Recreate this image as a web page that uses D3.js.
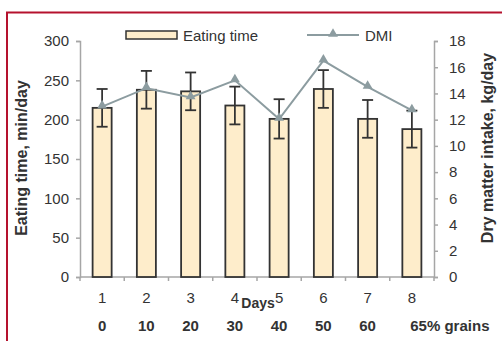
<!DOCTYPE html>
<html><head><meta charset="utf-8">
<script src="https://cdn.jsdelivr.net/npm/d3@7"></script>
<style>
html,body{margin:0;padding:0;background:#fff;}
svg{display:block;}
text{font-family:"Liberation Sans",Arial,sans-serif;fill:#333;}
</style></head>
<body>
<script>
const days = [1,2,3,4,5,6,7,8];
const grainLabels = ["0","10","20","30","40","50","60","65% grains"];
const eatingTime = [215,238,236,218,201,239,201,188];
const eatingErr = [24,24,24,24,25,24,24,23.5];
const dmi = [13.0,14.4,13.7,15.0,12.05,16.5,14.5,12.7];
const leftTicks = [0,50,100,150,200,250,300];
const rightTicks = [0,2,4,6,8,10,12,14,16,18];

const W=502,H=341;
const svg=d3.select("body").append("svg").attr("width",W).attr("height",H);

// frame
svg.append("rect").attr("x",7).attr("y",12.5).attr("width",520).attr("height",360)
  .attr("fill","none").attr("stroke","#b5122e").attr("stroke-width",2);

const x0=80,x1=434,yTop=41,yBot=277;
const x=d3.scaleBand().domain(days).range([x0,x1]);
const yL=d3.scaleLinear().domain([0,300]).range([yBot,yTop]);
const yR=d3.scaleLinear().domain([0,18]).range([yBot,yTop]);
const axisCol="#a6a6a6";

// axes
const gl=svg.append("g").attr("transform",`translate(${x0},0)`)
  .call(d3.axisLeft(yL).tickValues(leftTicks).tickSize(4).tickPadding(7));
const gr=svg.append("g").attr("transform",`translate(${x1},0)`)
  .call(d3.axisRight(yR).tickValues(rightTicks).tickSize(4).tickPadding(11));
[gl,gr].forEach(g=>{
  g.select(".domain").attr("stroke",axisCol).attr("stroke-width",1.5);
  g.selectAll(".tick line").attr("stroke",axisCol).attr("stroke-width",1.5);
  g.selectAll(".tick text").attr("font-size",15).attr("fill","#333").attr("font-family","Liberation Sans, Arial, sans-serif");
});

// x axis line and ticks at band boundaries
svg.append("line").attr("x1",x0).attr("x2",x1).attr("y1",yBot).attr("y2",yBot)
  .attr("stroke",axisCol).attr("stroke-width",1.5);
const bounds=days.map(d=>x(d)).concat([x1]);
svg.selectAll(".xt").data(bounds).enter().append("line")
  .attr("x1",d=>d).attr("x2",d=>d).attr("y1",yBot).attr("y2",yBot+4)
  .attr("stroke",axisCol).attr("stroke-width",1.5);

// bars
const bw=x.bandwidth()*0.43;
svg.selectAll(".bar").data(eatingTime).enter().append("rect")
  .attr("x",(d,i)=>x(days[i])+x.bandwidth()/2-bw/2)
  .attr("y",d=>yL(d)).attr("width",bw).attr("height",d=>yBot-yL(d))
  .attr("fill","#feedcb").attr("stroke","#333").attr("stroke-width",1.8);

// error bars
const eg=svg.append("g").attr("stroke","#333").attr("stroke-width",1.8);
eatingTime.forEach((v,i)=>{
  const cx=x(days[i])+x.bandwidth()/2;
  const t=yL(v+eatingErr[i]), b=yL(v-eatingErr[i]);
  eg.append("line").attr("x1",cx).attr("x2",cx).attr("y1",t).attr("y2",b);
  eg.append("line").attr("x1",cx-5.5).attr("x2",cx+5.5).attr("y1",t).attr("y2",t);
  eg.append("line").attr("x1",cx-5.5).attr("x2",cx+5.5).attr("y1",b).attr("y2",b);
});

// DMI line
const lineCol="#8c9ca0";
const line=d3.line().x((d,i)=>x(days[i])+x.bandwidth()/2).y(d=>yR(d));
svg.append("path").datum(dmi).attr("d",line).attr("fill","none")
  .attr("stroke",lineCol).attr("stroke-width",2);
const tri=d3.symbol().type(d3.symbolTriangle).size(42);
svg.selectAll(".mk").data(dmi).enter().append("path").attr("d",tri)
  .attr("transform",(d,i)=>`translate(${x(days[i])+x.bandwidth()/2},${yR(d)-1})`)
  .attr("fill",lineCol);

// x labels
svg.selectAll(".dl").data(days).enter().append("text")
  .attr("x",d=>x(d)+x.bandwidth()/2).attr("y",302.5).attr("text-anchor","middle")
  .attr("font-size",15).text(d=>d);
svg.selectAll(".gl").data(grainLabels).enter().append("text")
  .attr("x",(d,i)=>i===7?x(days[i])+x.bandwidth()/2+38:x(days[i])+x.bandwidth()/2)
  .attr("y",331).attr("text-anchor","middle")
  .attr("font-size",15).attr("font-weight","bold").text(d=>d);
svg.append("text").attr("x",258).attr("y",308).attr("text-anchor","middle")
  .attr("font-size",14).attr("font-weight","bold").text("Days");

// axis titles
svg.append("text").attr("transform","translate(27,158) rotate(-90)")
  .attr("text-anchor","middle").attr("font-size",16).attr("font-weight","bold")
  .text("Eating time, min/day");
svg.append("text").attr("transform","translate(493,148) rotate(-90)")
  .attr("text-anchor","middle").attr("font-size",16).attr("font-weight","bold")
  .text("Dry matter intake, kg/day");

// legend
svg.append("rect").attr("x",126).attr("y",31).attr("width",51).attr("height",8)
  .attr("fill","#feedcb").attr("stroke","#333").attr("stroke-width",1.5);
svg.append("text").attr("x",183).attr("y",40.5).attr("font-size",15).text("Eating time");
svg.append("line").attr("x1",307).attr("x2",359).attr("y1",35).attr("y2",35)
  .attr("stroke",lineCol).attr("stroke-width",2);
svg.append("path").attr("d",tri).attr("transform","translate(333,34)").attr("fill",lineCol);
svg.append("text").attr("x",365).attr("y",40.5).attr("font-size",15).text("DMI");
</script>
</body></html>
